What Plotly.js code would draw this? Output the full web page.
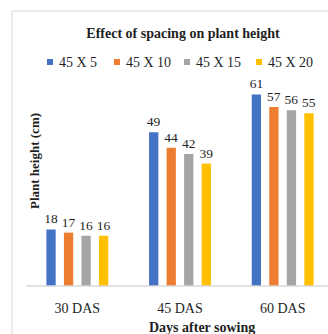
<!DOCTYPE html>
<html>
<head>
<meta charset="utf-8">
<script src="https://cdn.plot.ly/plotly-3.0.1.min.js"></script>
<style>
  html, body { margin: 0; padding: 0; overflow: hidden; background: #fff; }
  #chart { width: 345px; height: 345px; }
</style>
</head>
<body>
<div id="chart"></div>
<script>
// Plant height (cm) at three growth stages for four spacings
const stages = ['30 DAS', '45 DAS', '60 DAS'];
const spacings = ['45 X 5', '45 X 10', '45 X 15', '45 X 20'];
const height_45x5 = [18, 49, 61];
const height_45x10 = [17, 44, 57];
const height_45x15 = [16, 42, 56];
const height_45x20 = [16, 39, 55];
const colors = ['#4472C4', '#ED7D31', '#A5A5A5', '#FFC000'];

const series = [height_45x5, height_45x10, height_45x15, height_45x20];

const W = 345, H = 345;
const M = { l: 26, r: 11, t: 80, b: 59 };
const plotW = W - M.l - M.r, plotH = H - M.t - M.b;
// pixel -> paper coordinates
const px = x => (x - M.l) / plotW;
const py = y => (H - M.b - y) / plotH;

const serif = 'Liberation Serif, Times New Roman, serif';
const ink = '#1f1f1f';

const traces = series.map((vals, i) => ({
  type: 'bar',
  name: spacings[i],
  x: stages,
  y: vals,
  marker: { color: colors[i] },
  text: vals.map(String),
  textposition: 'outside',
  constraintext: 'none',
  cliponaxis: false,
  textfont: { family: serif, size: 13.5, color: ink },
  hoverinfo: 'skip',
  showlegend: false
}));

// legend drawn as small squares with labels
const legendSquareX = [47, 114, 184, 256];
const legendY = 62;
const shapes = [
  // chart area outline
  { type: 'rect', xref: 'paper', yref: 'paper',
    x0: px(12), x1: px(W + 20), y0: py(11), y1: py(H + 20),
    line: { color: '#d9d9d9', width: 1 }, fillcolor: 'rgba(0,0,0,0)', layer: 'below' },
  // category axis line
  { type: 'line', xref: 'paper', yref: 'paper',
    x0: 0, x1: 1, y0: 0, y1: 0,
    line: { color: '#d9d9d9', width: 1.3 } }
];
const annotations = [];
spacings.forEach((name, i) => {
  const x0 = legendSquareX[i];
  shapes.push({ type: 'rect', xref: 'paper', yref: 'paper',
    x0: px(x0), x1: px(x0 + 6), y0: py(legendY - 3), y1: py(legendY + 3),
    line: { width: 0 }, fillcolor: colors[i] });
  annotations.push({ xref: 'paper', yref: 'paper', x: px(x0 + 10), y: py(legendY),
    xanchor: 'left', yanchor: 'middle', showarrow: false, text: name,
    font: { family: serif, size: 14, color: ink } });
});

annotations.push({ xref: 'paper', yref: 'paper', x: px(34), y: py(161),
  textangle: -90, showarrow: false, xanchor: 'center', yanchor: 'middle',
  text: '<b>Plant height (cm)</b>', font: { family: serif, size: 13, color: ink } });
annotations.push({ xref: 'paper', yref: 'paper', x: px(202), y: py(327),
  showarrow: false, xanchor: 'center', yanchor: 'middle',
  text: '<b>Days after sowing</b>', font: { family: serif, size: 14, color: ink } });

const layout = {
  width: W, height: H,
  margin: M,
  paper_bgcolor: '#fff', plot_bgcolor: '#fff',
  title: { text: '<b>Effect of spacing on plant height</b>',
    x: 183 / W, xanchor: 'center', xref: 'container',
    y: 1 - 33 / H, yanchor: 'middle', yref: 'container',
    font: { family: serif, size: 14, color: ink } },
  barmode: 'group', bargap: 0.317, bargroupgap: 0.47,
  showlegend: false,
  xaxis: { type: 'category', showline: false, showgrid: false, zeroline: false,
    ticks: '', ticklabelstandoff: 12,
    tickfont: { family: serif, size: 14, color: ink }, fixedrange: true },
  yaxis: { range: [0, plotH / 3.14], visible: false, fixedrange: true },
  shapes: shapes,
  annotations: annotations,
  font: { family: serif, color: ink }
};

Plotly.newPlot('chart', traces, layout, { staticPlot: true, displayModeBar: false });
</script>
</body>
</html>
